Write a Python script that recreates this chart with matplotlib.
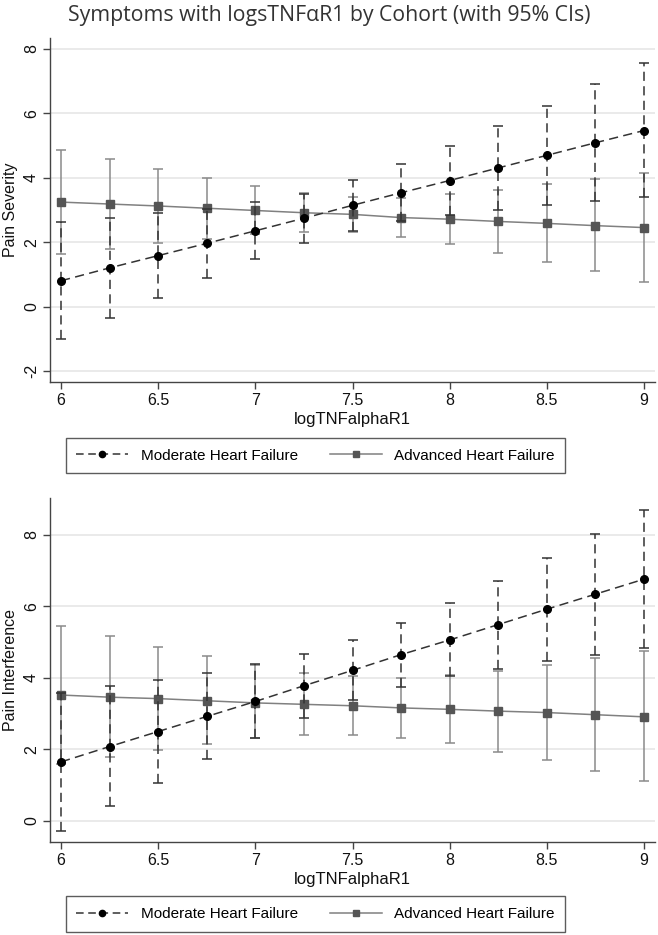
import matplotlib
matplotlib.use("Agg")
import matplotlib.pyplot as plt
from matplotlib.lines import Line2D

x = [6, 6.25, 6.5, 6.75, 7, 7.25, 7.5, 7.75, 8, 8.25, 8.5, 8.75, 9]

# Pain Severity
sev_mod = [0.81, 1.21, 1.59, 1.97, 2.36, 2.75, 3.15, 3.54, 3.92, 4.31, 4.70, 5.09, 5.47]
sev_mod_lo = [-1.01, -0.35, 0.29, 0.90, 1.48, 1.99, 2.36, 2.65, 2.85, 3.02, 3.16, 3.29, 3.40]
sev_mod_hi = [2.64, 2.77, 2.92, 3.04, 3.26, 3.51, 3.93, 4.43, 4.99, 5.61, 6.24, 6.90, 7.55]
sev_adv = [3.25, 3.19, 3.13, 3.06, 2.99, 2.92, 2.87, 2.77, 2.72, 2.65, 2.59, 2.52, 2.46]
sev_adv_lo = [1.64, 1.81, 1.99, 2.11, 2.25, 2.33, 2.33, 2.16, 1.95, 1.68, 1.40, 1.11, 0.78]
sev_adv_hi = [4.88, 4.58, 4.27, 3.99, 3.74, 3.54, 3.41, 3.38, 3.49, 3.62, 3.80, 3.96, 4.14]

# Pain Interference
int_mod = [1.65, 2.08, 2.50, 2.92, 3.34, 3.78, 4.21, 4.65, 5.06, 5.49, 5.92, 6.34, 6.76]
int_mod_lo = [-0.29, 0.41, 1.06, 1.73, 2.32, 2.89, 3.37, 3.74, 4.06, 4.25, 4.46, 4.65, 4.83]
int_mod_hi = [3.59, 3.76, 3.95, 4.15, 4.39, 4.67, 5.06, 5.53, 6.09, 6.72, 7.36, 8.03, 8.70]
int_adv = [3.52, 3.46, 3.42, 3.36, 3.30, 3.26, 3.22, 3.16, 3.12, 3.07, 3.03, 2.97, 2.91]
int_adv_lo = [1.60, 1.79, 1.97, 2.15, 2.31, 2.39, 2.41, 2.33, 2.17, 1.94, 1.69, 1.40, 1.11]
int_adv_hi = [5.44, 5.16, 4.86, 4.60, 4.37, 4.15, 4.04, 4.01, 4.07, 4.20, 4.37, 4.55, 4.75]

xticks = [6, 6.5, 7, 7.5, 8, 8.5, 9]
title = "Symptoms with logsTNF\u03b1R1 by Cohort (with 95% CIs)"
mod_label = "Moderate Heart Failure"
adv_label = "Advanced Heart Failure"

plt.rcParams['font.family'] = ['Liberation Sans', 'DejaVu Sans']

fig = plt.figure(figsize=(6.58, 9.35), dpi=100)
W, H = 658, 935

def make_ax(left, top, right, bottom):
    return fig.add_axes([left / W, 1 - bottom / H, (right - left) / W, (bottom - top) / H])

ax1 = make_ax(50, 38, 655, 382)
ax2 = make_ax(50, 498, 655, 842)

MOD_C = '#000000'
MOD_EB = '#333333'
ADV_C = '#555555'
ADV_LINE = '#808080'
ADV_EB = '#8a8a8a'

def draw(ax, mod, mlo, mhi, adv, alo, ahi, ylabel, yticks, ylim):
    for yt in yticks:
        ax.axhline(yt, color='#e6e6e6', lw=1.2, zorder=0)
    # advanced
    ax.errorbar(x, adv, yerr=[[a - l for a, l in zip(adv, alo)], [h - a for a, h in zip(adv, ahi)]],
                fmt='none', ecolor=ADV_EB, elinewidth=1.1, capsize=3.5, capthick=1.1, zorder=2)
    ax.plot(x, adv, color=ADV_LINE, lw=1.1, zorder=3)
    ax.plot(x, adv, ls='none', marker='s', ms=5.5, color=ADV_C, zorder=4)
    # moderate
    e2 = ax.errorbar(x, mod, yerr=[[m - l for m, l in zip(mod, mlo)], [h - m for m, h in zip(mod, mhi)]],
                     fmt='none', ecolor=MOD_EB, elinewidth=1.1, capsize=3.5, capthick=1.1, zorder=5)
    e2[2][0].set_linestyle((0, (6, 3.5)))
    ax.plot(x, mod, color='#333333', lw=1.1, ls=(0, (6, 3.5)), zorder=6)
    ax.plot(x, mod, ls='none', marker='o', ms=5.5, color=MOD_C, zorder=7)

    ax.set_xlim(5.943, 9.057)
    ax.set_ylim(*ylim)
    ax.set_xticks(xticks)
    ax.set_xticklabels([f"{t:g}" for t in xticks])
    ax.set_yticks(yticks)
    ax.set_yticklabels([f"{t:g}" for t in yticks], rotation=90, va='center')
    for s in ['top', 'right']:
        ax.spines[s].set_visible(False)
    for s in ['left', 'bottom']:
        ax.spines[s].set_color('#444444')
        ax.spines[s].set_linewidth(1.0)
    ax.tick_params(axis='both', direction='out', length=5, width=1.0, color='#444444',
                   labelsize=11.5, labelcolor='#111111')
    ax.tick_params(axis='x', pad=3)
    ax.tick_params(axis='y', pad=3)
    ax.set_xlabel("logTNFalphaR1", fontsize=12, labelpad=3, color='#111111')
    ax.set_ylabel(ylabel, fontsize=11.5, labelpad=4, color='#111111')

draw(ax1, sev_mod, sev_mod_lo, sev_mod_hi, sev_adv, sev_adv_lo, sev_adv_hi,
     "Pain Severity", [-2, 0, 2, 4, 6, 8], (-2.33, 8.34))
draw(ax2, int_mod, int_mod_lo, int_mod_hi, int_adv, int_adv_lo, int_adv_hi,
     "Pain Interference", [0, 2, 4, 6, 8], (-0.59, 9.03))

fig.text(329 / W, 1 - 16 / H, title, ha='center', va='center', fontsize=15.3,
         family=['Open Sans', 'DejaVu Sans'], color='#333333')

handles = [
    Line2D([], [], color='#333333', lw=1.1, ls=(0, (5, 3)), marker='o', ms=4.5,
           mfc=MOD_C, mec=MOD_C),
    Line2D([], [], color=ADV_LINE, lw=1.1, marker='s', ms=4.5, mfc=ADV_C, mec=ADV_C),
]

for (ybox_top, ybox_bot) in [(439, 472), (896, 932)]:
    cy = (ybox_top + ybox_bot) / 2
    leg = fig.legend(handles, [mod_label, adv_label], ncol=2,
                     loc='center', bbox_to_anchor=(315.5 / W, 1 - cy / H),
                     fontsize=11, frameon=True, fancybox=False, handlelength=3.4,
                     columnspacing=2.1, handletextpad=0.8, borderpad=0.7,
                     borderaxespad=0)
    leg.get_frame().set_edgecolor('#333333')
    leg.get_frame().set_linewidth(1.0)

fig.savefig("out.png", dpi=100)
